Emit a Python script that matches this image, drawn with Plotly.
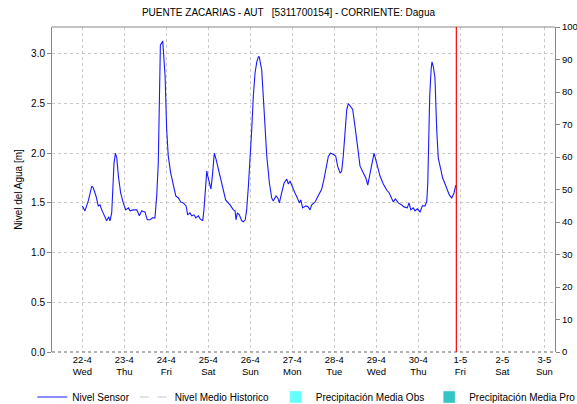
import pandas as pd
import plotly.graph_objects as go

title = "PUENTE ZACARIAS - AUT   [5311700154] - CORRIENTE: Dagua"
start_date = "2020-04-22"

# Hours since 22-4 00:00 and water level [m]
hours = [0, 1.5, 3.4, 5.4, 6.3, 7.8, 9.1, 10.1, 11.1, 12.4, 13.9, 15.1, 15.8, 16.8, 17.4, 18.1,
         18.9, 19.7, 20.6, 21.9, 23.4, 24.8, 26.3, 27.3, 29.1, 31.1, 32.6, 33.9, 35.8, 37.1,
         38.7, 40.2, 41.5, 42.5, 43.4, 44.0, 44.6, 45.4, 45.9, 46.3, 47.3, 48.2, 49.1, 50.5,
         52.0, 53.4, 54.9, 56.2, 57.7, 59.3, 60.2, 61.5, 62.5, 63.8, 64.8, 66.3, 67.3, 68.8,
         69.5, 70.5, 71.1, 71.7, 72.6, 73.5, 74.3, 74.9, 75.4, 76.4, 77.7, 79.3, 80.6, 81.9,
         84.4, 86.3, 87.3, 87.8, 88.6, 89.7, 91.1, 92.0, 93.1, 93.9, 94.9, 95.8, 96.8, 97.7,
         98.7, 99.7, 100.6, 101.1, 102.5, 103.4, 104.4, 105.4, 106.9, 108.2, 109.1, 110.7,
         111.7, 112.6, 113.9, 115.3, 116.8, 117.7, 118.7, 120.2, 121.5, 122.9, 124.0, 124.8,
         125.9, 127.8, 129.1, 130.1, 131.1, 133.0, 134.9, 136.8, 138.1, 139.3, 140.6, 141.9,
         143.4, 144.8, 145.9, 147.3, 148.2, 149.1, 150.1, 151.1, 152.0, 153.0, 154.5, 155.8,
         157.1, 158.7, 160.6, 162.0, 163.1, 164.1, 165.4, 166.7, 168.2, 170.1, 172.0, 173.9,
         175.4, 176.8, 177.7, 178.9, 180.6, 182.5, 183.8, 185.7, 186.7, 187.7, 189.1, 190.1,
         191.4, 193.0, 194.3, 195.8, 196.8, 197.4, 197.9, 198.5, 199.3, 199.8, 200.6, 201.5,
         202.5, 203.4, 204.8, 205.9, 207.3, 208.6, 209.7, 211.1, 212.4, 213.4]
nivel = [1.47, 1.42, 1.52, 1.67, 1.65, 1.57, 1.47, 1.48, 1.43, 1.37, 1.32, 1.36, 1.32, 1.40, 1.70, 1.90,
         2.00, 1.95, 1.77, 1.60, 1.50, 1.43, 1.45, 1.42, 1.43, 1.43, 1.37, 1.42, 1.41, 1.33,
         1.33, 1.35, 1.35, 1.57, 1.90, 2.41, 3.09, 3.11, 3.13, 3.04, 2.77, 2.24, 1.97, 1.80,
         1.67, 1.57, 1.55, 1.51, 1.50, 1.47, 1.38, 1.40, 1.37, 1.38, 1.35, 1.37, 1.34, 1.32,
         1.43, 1.67, 1.82, 1.77, 1.70, 1.64, 1.77, 1.90, 2.00, 1.94, 1.84, 1.72, 1.60, 1.53,
         1.48, 1.43, 1.42, 1.33, 1.40, 1.38, 1.32, 1.31, 1.33, 1.43, 1.67, 1.90, 2.24, 2.57,
         2.81, 2.92, 2.97, 2.97, 2.84, 2.57, 2.27, 1.97, 1.70, 1.55, 1.52, 1.57,
         1.55, 1.50, 1.60, 1.70, 1.74, 1.69, 1.72, 1.65, 1.60, 1.55, 1.50, 1.53,
         1.45, 1.47, 1.46, 1.43, 1.48, 1.51, 1.58, 1.64, 1.74, 1.84, 1.97, 2.00,
         1.99, 1.97, 1.87, 1.80, 1.82, 1.97, 2.24, 2.44, 2.50, 2.48, 2.44, 2.27,
         2.07, 1.87, 1.80, 1.75, 1.68, 1.77, 1.92, 2.00, 1.90, 1.77, 1.69, 1.63,
         1.60, 1.55, 1.51, 1.54, 1.50, 1.48, 1.46, 1.45, 1.50, 1.43, 1.45, 1.42,
         1.44, 1.41, 1.47, 1.47, 1.51, 1.70, 2.07, 2.57, 2.84, 2.92, 2.87, 2.76,
         2.24, 1.95, 1.84, 1.75, 1.69, 1.62, 1.58, 1.55, 1.60, 1.68]

tick_dates = ["2020-04-22", "2020-04-23", "2020-04-24", "2020-04-25", "2020-04-26", "2020-04-27",
              "2020-04-28", "2020-04-29", "2020-04-30", "2020-05-01", "2020-05-02", "2020-05-03"]
tick_labels = ["22-4<br>Wed", "23-4<br>Thu", "24-4<br>Fri", "25-4<br>Sat", "26-4<br>Sun", "27-4<br>Mon",
               "28-4<br>Tue", "29-4<br>Wed", "30-4<br>Thu", "1-5<br>Fri", "2-5<br>Sat", "3-5<br>Sun"]
x_range = ["2020-04-21 06:40", "2020-05-03 06:06"]
now_time = "2020-04-30 21:43"

t = pd.Timestamp(start_date) + pd.to_timedelta(hours, unit="h")

fig = go.Figure()
fig.add_trace(go.Scatter(x=t, y=nivel, mode="lines", name="Nivel Sensor",
                         line=dict(color="#1a1aff", width=1.1), legend="legend"))
fig.add_trace(go.Scatter(x=[None], y=[None], mode="lines", name="Nivel Medio Historico",
                         line=dict(color="#c8c8c8", width=1, dash="dash"), legend="legend"))
fig.add_trace(go.Bar(x=[None], y=[None], name="Precipitación Media Obs",
                     marker_color="#66ffff", yaxis="y2", legend="legend2"))
fig.add_trace(go.Bar(x=[None], y=[None], name="Precipitación Media Pro",
                     marker_color="#33c4c4", yaxis="y2", legend="legend2"))

grid = dict(showgrid=True, gridcolor="#c8c8c8", griddash="dot", gridwidth=1)
leg = dict(orientation="h", xref="container", yref="container", xanchor="left",
           y=0.0173, yanchor="middle", font=dict(size=10), itemwidth=30, tracegroupgap=0,
           bgcolor="rgba(0,0,0,0)")
fig.update_layout(
    width=577, height=404,
    margin=dict(l=52, r=22, t=27, b=52, autoexpand=False),
    paper_bgcolor="white", plot_bgcolor="white",
    font=dict(family="Liberation Sans, Arial, sans-serif", size=10, color="#000"),
    title=dict(text=title, x=0.5, xanchor="center", yref="container", y=0.978, yanchor="top",
               font=dict(size=10, color="#000")),
    showlegend=True,
    legend=dict(x=0.056, **leg),
    legend2=dict(x=0.478, **leg),
    xaxis=dict(type="date", range=x_range, tickmode="array", tickvals=tick_dates,
               ticktext=tick_labels, ticks="", showline=False, zeroline=False,
               tickfont=dict(size=9.5), **grid),
    yaxis=dict(range=[0, 3.27], dtick=0.5, tickformat=".1f", ticks="outside", ticklen=4,
               tickcolor="#888", showline=True, linecolor="#888", linewidth=1, zeroline=False,
               title=dict(text="Nivel del Agua [m]", font=dict(size=10), standoff=6), **grid),
    yaxis2=dict(range=[0, 100], dtick=10, overlaying="y", side="right", ticks="outside",
                ticklen=4, tickcolor="#888", showline=True, linecolor="#888", linewidth=1,
                showgrid=False, zeroline=False, tickfont=dict(size=9.5)),
)
# top border and dotted bottom border
fig.add_shape(type="line", xref="paper", yref="paper", x0=0, x1=1, y0=1, y1=1,
              line=dict(color="#888", width=1))
fig.add_shape(type="line", xref="paper", yref="paper", x0=0, x1=1, y0=0, y1=0,
              line=dict(color="#666", width=1, dash="dot"))
# current time marker
fig.add_shape(type="line", xref="x", yref="paper", x0=now_time, x1=now_time, y0=0, y1=1,
              line=dict(color="#ff0000", width=1.2))

fig.write_html("out.html", config={"displayModeBar": False},
               post_script="document.body.style.margin='0px';")
